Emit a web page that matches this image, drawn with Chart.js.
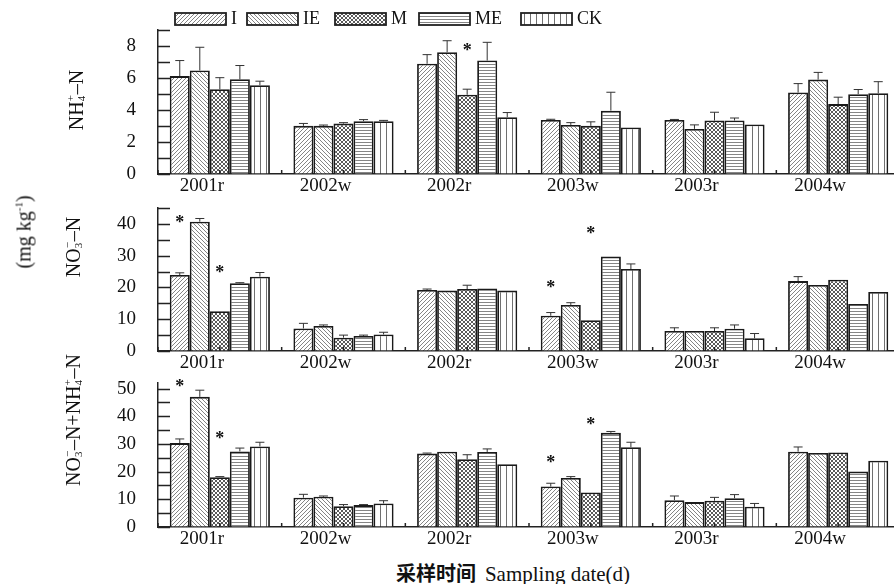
<!DOCTYPE html>
<html>
<head>
<meta charset="utf-8">
<script src="https://cdn.jsdelivr.net/npm/chart.js@4.4.1/dist/chart.umd.min.js"></script>
<style>
  html, body { margin: 0; padding: 0; background: #fff; width: 894px; height: 584px; overflow: hidden; }
  #wrap { position: relative; width: 894px; height: 584px; }
  canvas { position: absolute; left: 0; }
  .txt { position: absolute; font-family: 'Times New Roman', 'Liberation Serif', serif; color: #111; white-space: nowrap; }
  .rot { transform: translate(-50%, -50%) rotate(-90deg); font-size: 20px; }
  .ss { display: inline-block; position: relative; width: 7px; height: 20px; }
  .ss span { position: absolute; left: 0; font-size: 11px; line-height: 12px; }
  .ss .up { top: 1px; }
  .ss .dn { top: 12px; }
  .xt { transform: translate(-50%, -50%); font-size: 21px; }
  .cn { font-family: 'Noto Sans CJK SC', sans-serif; font-weight: bold; font-size: 20px; margin-right: 9px; }
</style>
</head>
<body>
<div id="wrap">
  <canvas id="c1" width="900" height="200" style="top:0px"></canvas>
  <canvas id="c2" width="900" height="187" style="top:190px"></canvas>
  <canvas id="c3" width="900" height="188" style="top:365px"></canvas>

  <div class="txt rot" style="left:75px; top:100px">NH<span class="ss"><span class="up">+</span><span class="dn">4</span></span>–N</div>
  <div class="txt rot" style="left:72px; top:247px">NO<span class="ss"><span class="up">−</span><span class="dn">3</span></span>–N</div>
  <div class="txt rot" style="left:72px; top:420px">NO<span class="ss"><span class="up">−</span><span class="dn">3</span></span>–N+NH<span class="ss"><span class="up">+</span><span class="dn">4</span></span>–N</div>
  <div class="txt rot" style="left:24px; top:232px">(mg kg<sup style="font-size:11px">-1</sup>)</div>
  <div class="txt xt" style="left:513px; top:572px"><span class="cn">采样时间</span>Sampling date(d)</div>
</div>

<script>
'use strict';


// Sampling dates and treatments
//
const DATES = ['2001r', '2002w', '2002r', '2003w', '2003r', '2004w'];
const TREATMENTS = ['I', 'IE', 'M', 'ME', 'CK'];

// NH4+-N (mg kg-1), rows = treatments, columns = dates
const NH4_MEAN = [
  [6.12, 3.01, 6.89, 3.38, 3.38, 5.09],
  [6.47, 3.01, 7.61, 3.07, 2.82, 5.90],
  [5.30, 3.15, 4.95, 3.01, 3.34, 4.37],
  [5.92, 3.30, 7.09, 3.96, 3.34, 4.99],
  [5.55, 3.30, 3.55, 2.91, 3.09, 5.05]
];
const NH4_ERR = [
  [0.97, 0.15, 0.57, 0.04, 0.03, 0.56],
  [1.45, 0.05, 0.72, 0.14, 0.25, 0.45],
  [0.72, 0.06, 0.35, 0.25, 0.52, 0.43],
  [0.86, 0.10, 1.14, 1.15, 0.16, 0.29],
  [0.25, 0.05, 0.29, 0, 0, 0.72]
];
// significance marks: [date, treatment, height]
const NH4_STARS = [['2002r', 'M', 8.0]];

// NO3--N
const NO3_MEAN = [
  [23.9, 7.1, 19.2, 11.1, 6.3, 22.0],
  [40.7, 7.9, 19.0, 14.5, 6.3, 20.8],
  [12.5, 4.2, 19.5, 9.7, 6.3, 22.4],
  [21.3, 4.7, 19.7, 29.7, 7.0, 14.8],
  [23.4, 5.2, 19.0, 25.8, 4.0, 18.6]
];
const NO3_ERR = [
  [0.7, 1.6, 0.3, 1.0, 1.0, 1.4],
  [1.0, 0.3, 0, 0.7, 0, 0],
  [0, 0.8, 1.2, 0, 1.0, 0],
  [0.2, 0.3, 0, 0, 1.2, 0],
  [1.3, 0.7, 0, 1.6, 1.5, 0]
];
const NO3_STARS = [['2001r', 'I', 42.0], ['2001r', 'M', 26.2], ['2003w', 'I', 21.5], ['2003w', 'M', 38.3]];

// NO3--N + NH4+-N
const SUM_MEAN = [
  [30.3, 10.6, 26.5, 14.6, 9.7, 27.2],
  [47.0, 10.9, 27.2, 17.7, 9.0, 26.7],
  [18.0, 7.5, 24.5, 12.5, 9.5, 26.9],
  [27.3, 7.9, 27.1, 34.0, 10.4, 20.0],
  [29.1, 8.5, 22.7, 28.8, 7.3, 23.9]
];
const SUM_ERR = [
  [1.5, 1.2, 0.2, 1.2, 1.5, 1.7],
  [2.4, 0.3, 0, 0.5, 0, 0],
  [0.2, 0.6, 1.6, 0, 1.2, 0],
  [1.2, 0.2, 1.1, 0.5, 1.3, 0],
  [1.5, 1.0, 0, 1.8, 1.2, 0]
];
const SUM_STARS = [['2001r', 'I', 52.2], ['2001r', 'M', 33.6], ['2003w', 'I', 24.9], ['2003w', 'M', 38.8]];

// y axes: minor tick values, labelled values, axis max
const NH4_TICKS = [0, 1, 2, 3, 4, 5, 6, 7, 8, 9];
const NH4_LABELS = [0, 2, 4, 6, 8];
const NO3_TICKS = [0, 5, 10, 15, 20, 25, 30, 35, 40, 45];
const NO3_LABELS = [0, 10, 20, 30, 40];
const SUM_TICKS = [0, 5, 10, 15, 20, 25, 30, 35, 40, 45, 50];
const SUM_LABELS = [0, 10, 20, 30, 40, 50];


const FONT = "'Times New Roman', 'Liberation Serif', serif";
const LEGEND_X = [175, 247, 335, 419, 521];


// Hatch fills, one per treatment
//
function hatch(kind) {
  var s = { I: 4, IE: 4, M: 4, ME: 3, CK: 6 }[kind];
  var c = document.createElement('canvas');
  c.width = s; c.height = s;
  var g = c.getContext('2d');
  g.fillStyle = '#fff';
  g.fillRect(0, 0, s, s);
  g.strokeStyle = { I: '#858585', IE: '#858585', M: '#5a5a5a', ME: '#858585', CK: '#707070' }[kind];
  g.lineWidth = 1;
  g.beginPath();
  if (kind === 'I' || kind === 'M') {
    g.moveTo(-1, s + 1); g.lineTo(s + 1, -1);
    g.moveTo(-1, 1); g.lineTo(1, -1);
    g.moveTo(s - 1, s + 1); g.lineTo(s + 1, s - 1);
  }
  if (kind === 'IE' || kind === 'M') {
    g.moveTo(-1, -1); g.lineTo(s + 1, s + 1);
    g.moveTo(s - 1, -1); g.lineTo(s + 1, 1);
    g.moveTo(-1, s - 1); g.lineTo(1, s + 1);
  }
  if (kind === 'ME') {
    g.moveTo(0, 1.5); g.lineTo(s, 1.5);
  }
  if (kind === 'CK') {
    g.moveTo(2.5, 0); g.lineTo(2.5, s);
  }
  g.stroke();
  return g.createPattern(c, 'repeat');
}
const FILLS = TREATMENTS.map(hatch);


// Error bars, significance stars, inward ticks, legend
//
const decorations = {
  id: 'decorations',
  afterDatasetsDraw: function(chart, args, opts) {
    var ctx = chart.ctx, x = chart.scales.x, y = chart.scales.y, area = chart.chartArea;
    ctx.save();

    ctx.strokeStyle = '#333';
    ctx.lineWidth = 1;
    chart.data.datasets.forEach(function(ds, i) {
      chart.getDatasetMeta(i).data.forEach(function(bar, j) {
        var e = ds.errors[j];
        if (!e) return;
        var top = y.getPixelForValue(ds.data[j] + e);
        ctx.beginPath();
        ctx.moveTo(bar.x, bar.y);
        ctx.lineTo(bar.x, top);
        ctx.moveTo(bar.x - 4.5, top);
        ctx.lineTo(bar.x + 4.5, top);
        ctx.stroke();
      });
    });

    ctx.fillStyle = '#111';
    ctx.font = 'bold 18px ' + FONT;
    ctx.textAlign = 'center';
    ctx.textBaseline = 'alphabetic';
    opts.stars.forEach(function(s) {
      var bar = chart.getDatasetMeta(TREATMENTS.indexOf(s[1])).data[DATES.indexOf(s[0])];
      ctx.fillText('*', bar.x, y.getPixelForValue(s[2]) + 10);
    });

    ctx.strokeStyle = '#222';
    ctx.lineWidth = 1.5;
    ctx.beginPath();
    y.ticks.forEach(function(t) {
      var py = Math.round(y.getPixelForValue(t.value)) + 0.5;
      ctx.moveTo(area.left, py);
      ctx.lineTo(area.left + 12, py);
    });
    var half = (x.getPixelForValue(1) - x.getPixelForValue(0)) / 2;
    DATES.forEach(function(d, i) {
      var px = x.getPixelForValue(i);
      [px - half, px].forEach(function(p) {
        ctx.moveTo(p, area.bottom);
        ctx.lineTo(p, area.bottom - 4);
      });
    });
    ctx.stroke();

    if (opts.legend) {
      ctx.font = '18px ' + FONT;
      ctx.textAlign = 'left';
      ctx.textBaseline = 'middle';
      chart.data.datasets.forEach(function(ds, i) {
        var lx = LEGEND_X[i];
        ctx.fillStyle = ds.backgroundColor;
        ctx.fillRect(lx, 13, 51, 12);
        ctx.strokeStyle = '#222';
        ctx.lineWidth = 1.8;
        ctx.strokeRect(lx, 13, 51, 12);
        ctx.fillStyle = '#111';
        ctx.fillText(ds.label, lx + 56, 19);
      });
    }
    ctx.restore();
  }
};


function panel(id, means, errs, stars, ticks, labels, max, padTop, legend) {
  return new Chart(document.getElementById(id), {
    type: 'bar',
    data: {
      labels: DATES,
      datasets: TREATMENTS.map(function(t, i) {
        return {
          label: t,
          data: means[i],
          errors: errs[i],
          backgroundColor: FILLS[i],
          borderColor: '#1a1a1a',
          borderWidth: 1.8,
          categoryPercentage: 0.81,
          barPercentage: 1.0
        };
      })
    },
    options: {
      responsive: false,
      animation: false,
      layout: { padding: { top: padTop, left: 0, right: 0, bottom: 0 } },
      plugins: {
        legend: { display: false },
        tooltip: { enabled: false },
        decorations: { stars: stars, legend: legend }
      },
      scales: {
        x: {
          grid: { display: true, drawOnChartArea: false, drawTicks: false },
          border: { display: true, color: '#222', width: 1.5 },
          ticks: { color: '#111', font: { family: FONT, size: 19 }, padding: 1, labelOffset: -18, maxRotation: 0, autoSkip: false },
          afterFit: function(s) { s.height = 26; }
        },
        y: {
          min: 0,
          max: max,
          // invisible outer ticks keep the labels away from the axis
          grid: { display: true, drawOnChartArea: false, drawTicks: true, tickLength: 22, tickColor: 'rgba(0,0,0,0)' },
          border: { display: true, color: '#222', width: 1.5 },
          ticks: {
            color: '#111',
            font: { family: FONT, size: 19 },
            padding: 0,
            autoSkip: false,
            callback: function(v) { return labels.indexOf(v) >= 0 ? v : ''; }
          },
          afterBuildTicks: function(s) { s.ticks = ticks.map(function(v) { return { value: v }; }); },
          afterFit: function(s) { s.width = 158; }
        }
      }
    },
    plugins: [decorations]
  });
}


panel('c1', NH4_MEAN, NH4_ERR, NH4_STARS, NH4_TICKS, NH4_LABELS, 9, 30, true);
panel('c2', NO3_MEAN, NO3_ERR, NO3_STARS, NO3_TICKS, NO3_LABELS, 45, 18, false);
panel('c3', SUM_MEAN, SUM_ERR, SUM_STARS, SUM_TICKS, SUM_LABELS, 52, 18, false);
</script>
</body>
</html>
